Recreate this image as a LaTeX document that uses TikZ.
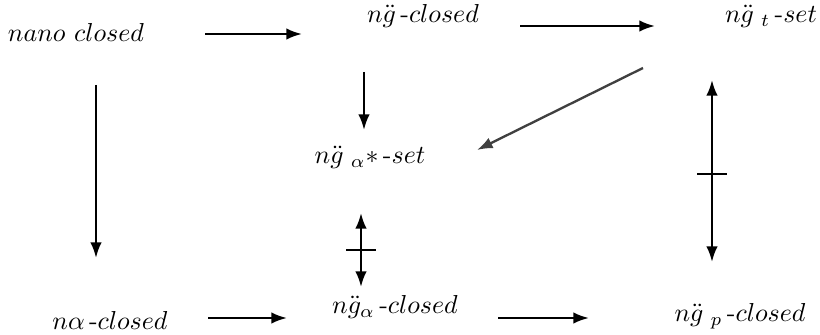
\documentclass[tikz,border=0pt]{standalone}
\usetikzlibrary{arrows.meta}
\begin{document}
\begin{tikzpicture}[x=0.385pt, y=-0.385pt, every node/.style={inner sep=1pt},
  imp/.style={-{Latex[length=6pt,width=4.4pt]},line width=0.9pt},
  biimp/.style={{Latex[length=6pt,width=4.4pt]}-{Latex[length=6pt,width=4.4pt]},line width=0.9pt},
  tick/.style={line width=0.9pt}]
\useasboundingbox (0,0) rectangle (820,335);
% sets
\node (nano) at (76,32) {$nano\ closed$};
\node (ng) at (423,16) {$n\ddot{g}\,$-$closed$};
\node (ngt) at (771,16) {$n\ddot{g}\;_{t}\,$-$set$};
\node (ngas) at (370,157) {$n\ddot{g}\;_{\alpha}{\ast}\,$-$set$};
\node (nal) at (110,320) {$n\alpha\,$-$closed$};
\node (nga) at (395,307) {$n\ddot{g}_{\alpha}\,$-$closed$};
\node (ngp) at (740,316) {$n\ddot{g}\;_{p}\,$-$closed$};
% arrow ends
\coordinate (a1) at (205,34); \coordinate (b1) at (302,34);
\coordinate (a2) at (520,26); \coordinate (b2) at (655,26);
\coordinate (a3) at (643,68); \coordinate (b3) at (477,150);
\coordinate (a4) at (364,72); \coordinate (b4) at (364,130);
\coordinate (a5) at (96,85); \coordinate (b5) at (96,258);
\coordinate (a6) at (361,213); \coordinate (b6) at (361,287);
\coordinate (a7) at (712,80); \coordinate (b7) at (712,262);
\coordinate (a8) at (208,318); \coordinate (b8) at (287,318);
\coordinate (a9) at (498,318); \coordinate (b9) at (589,318);
\draw[imp] (a1)--(b1); \draw[imp] (a2)--(b2);
\draw[imp,black!75] (a3)--(b3); \draw[imp] (a4)--(b4);
\draw[imp] (a5)--(b5);
\draw[imp] (a8)--(b8); \draw[imp] (a9)--(b9);
% no converse
\draw[biimp] (a6)--(b6) coordinate[pos=0.5] (t6);
\draw[tick] ([xshift=-5.6pt]t6)--([xshift=5.6pt]t6);
\draw[biimp] (a7)--(b7) coordinate[pos=0.516] (t7);
\draw[tick] ([xshift=-5.6pt]t7)--([xshift=5.6pt]t7);
\end{tikzpicture}
\end{document}
